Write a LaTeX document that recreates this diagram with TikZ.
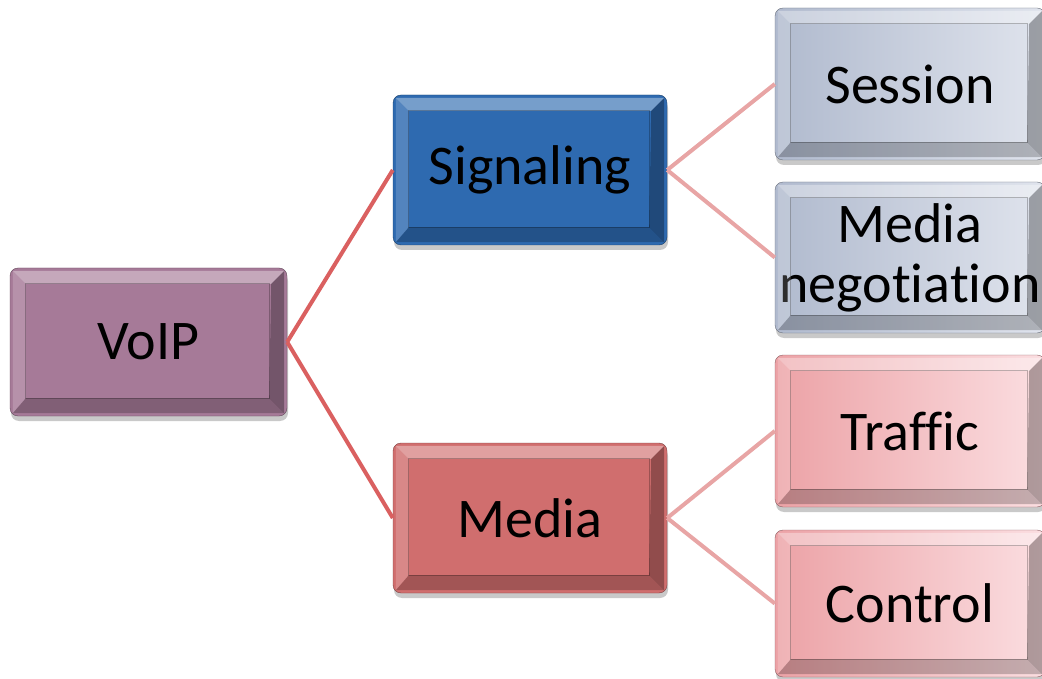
\documentclass[tikz,border=0pt]{standalone}
\usepackage{fontspec}
\setmainfont[Ligatures={NoCommon,NoContextual}]{Carlito}
\usetikzlibrary{calc,shadows}
\definecolor{cvoip}{RGB}{166,122,152}
\definecolor{csig}{RGB}{46,106,176}
\definecolor{cmed}{RGB}{208,110,110}
\definecolor{csesL}{RGB}{176,186,206}
\definecolor{csesR}{RGB}{224,228,237}
\definecolor{ctrL}{RGB}{236,162,166}
\definecolor{ctrR}{RGB}{251,222,225}
\definecolor{lineA}{RGB}{218,96,96}
\definecolor{lineB}{RGB}{232,165,165}
\tikzset{
  bx/.style={rectangle, rounded corners=8pt, inner sep=0pt, align=center,
    font=\fontsize{56}{60}\selectfont, text=black,
    drop shadow={shadow xshift=1pt, shadow yshift=-5pt, opacity=.3, fill=black!70}},
  lvlA/.style={draw=lineA, line width=4pt},
  lvlB/.style={draw=lineB, line width=4pt},
}
\newcommand{\bevelit}[1]{%
  \fill[white,opacity=.35] ($(#1.north west)+(3pt,-3pt)$) -- ($(#1.north east)+(-3pt,-3pt)$)
     -- ($(#1.north east)+(-16pt,-16pt)$) -- ($(#1.north west)+(16pt,-16pt)$) -- cycle;
  \fill[white,opacity=.18] ($(#1.north west)+(3pt,-3pt)$) -- ($(#1.south west)+(3pt,3pt)$)
     -- ($(#1.south west)+(16pt,18pt)$) -- ($(#1.north west)+(16pt,-16pt)$) -- cycle;
  \fill[black,opacity=.22] ($(#1.south west)+(3pt,3pt)$) -- ($(#1.south east)+(-3pt,3pt)$)
     -- ($(#1.south east)+(-18pt,18pt)$) -- ($(#1.south west)+(16pt,18pt)$) -- cycle;
  \fill[black,opacity=.3] ($(#1.north east)+(-3pt,-3pt)$) -- ($(#1.south east)+(-3pt,3pt)$)
     -- ($(#1.south east)+(-18pt,18pt)$) -- ($(#1.north east)+(-16pt,-16pt)$) -- cycle;
  \draw[black,opacity=.25,line width=.8pt] ($(#1.north west)+(16pt,-16pt)$) rectangle ($(#1.south east)+(-18pt,18pt)$);
}
\begin{document}
\begin{tikzpicture}[x=1pt,y=-1pt]
\useasboundingbox (0,0) rectangle (1042,679);
\node[bx, fill=cvoip, draw=cvoip!60!black, minimum width=277pt, minimum height=148pt] (voip) at (148.5,342) {VoIP};
\node[bx, fill=csig, draw=csig!60!black, minimum width=274pt, minimum height=150pt] (sig) at (530,170) {Signaling};
\node[bx, fill=cmed, draw=cmed!60!black, minimum width=274pt, minimum height=150pt] (med) at (530,518) {Media};
\node[bx, left color=csesL, right color=csesR, draw=csesL!60!black, minimum width=270pt, minimum height=152pt] (ses) at (910,84) {Session};
\node[bx, left color=csesL, right color=csesR, draw=csesL!60!black, minimum width=270pt, minimum height=151pt] (neg) at (910,257.5) {Media\\negotiation};
\node[bx, left color=ctrL, right color=ctrR, draw=ctrL!60!black, minimum width=270pt, minimum height=152pt] (tra) at (910,431) {Traffic};
\node[bx, left color=ctrL, right color=ctrR, draw=ctrL!60!black, minimum width=270pt, minimum height=147pt] (con) at (910,603.5) {Control};
\bevelit{voip}\bevelit{sig}\bevelit{med}\bevelit{ses}\bevelit{neg}\bevelit{tra}\bevelit{con}
\draw[lvlA] (voip.east) -- (sig.west);
\draw[lvlA] (voip.east) -- (med.west);
\draw[lvlB] (sig.east) -- (ses.west);
\draw[lvlB] (sig.east) -- (neg.west);
\draw[lvlB] (med.east) -- (tra.west);
\draw[lvlB] (med.east) -- (con.west);
\end{tikzpicture}
\end{document}
